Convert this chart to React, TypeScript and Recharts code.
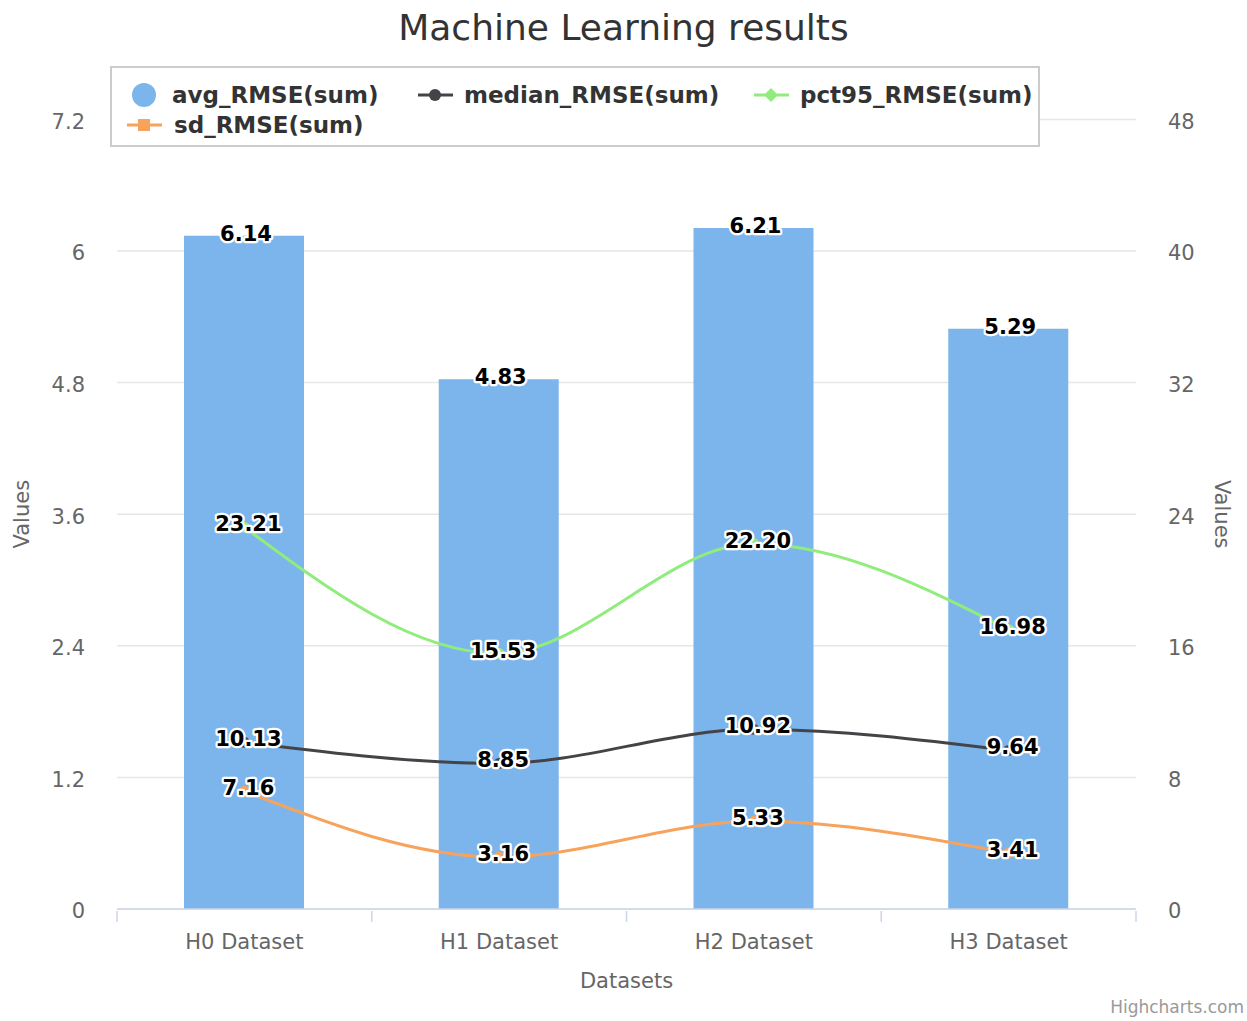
import {
  ComposedChart,
  Bar,
  Line,
  XAxis,
  YAxis,
  CartesianGrid,
  LabelList,
  Label,
} from "recharts";

const categories = ["H0 Dataset", "H1 Dataset", "H2 Dataset", "H3 Dataset"];
const avgRmse = [6.14, 4.83, 6.21, 5.29];
const medianRmse = [10.13, 8.85, 10.92, 9.64];
const pct95Rmse = [23.21, 15.53, 22.2, 16.98];
const sdRmse = [7.16, 3.16, 5.33, 3.41];
const leftTicks = [0, 1.2, 2.4, 3.6, 4.8, 6, 7.2];
const rightTicks = [0, 8, 16, 24, 32, 40, 48];

const data = categories.map((name, i) => ({
  name,
  avg: avgRmse[i],
  median: medianRmse[i],
  pct95: pct95Rmse[i],
  sd: sdRmse[i],
}));

const W = 1247;
const H = 1021;
const PLOT_LEFT = 117;
const PLOT_RIGHT = 1136;
const BAND = (PLOT_RIGHT - PLOT_LEFT) / categories.length;
const FONT = "'DejaVu Sans', sans-serif";
const AXIS_COLOR = "#ccd6eb";
const TEXT_COLOR = "#666666";

const COLORS = {
  avg: "#7cb5ec",
  median: "#434348",
  pct95: "#90ed7d",
  sd: "#f7a35c",
};

function ValueLabel(props: any) {
  const { x, y, width, value, dx = 0 } = props;
  const cx = width != null ? x + width / 2 : x;
  const text = Number(value).toFixed(2);
  return (
    <text
      x={cx + dx}
      y={y}
      dy={6}
      textAnchor="middle"
      fontFamily={FONT}
      fontWeight="bold"
      fontSize={21}
      fill="#000"
      stroke="#fff"
      strokeWidth={4.5}
      strokeLinejoin="round"
      style={{ paintOrder: "stroke" }}
    >
      {text}
    </text>
  );
}

function XTick(props: any) {
  const { x, y, payload, index } = props;
  const left = x - BAND / 2;
  return (
    <g>
      <line x1={left} x2={left} y1={y} y2={y + 11} stroke={AXIS_COLOR} strokeWidth={1.5} />
      {index === categories.length - 1 && (
        <line x1={x + BAND / 2} x2={x + BAND / 2} y1={y} y2={y + 11} stroke={AXIS_COLOR} strokeWidth={1.5} />
      )}
      <text x={x} y={y + 38} textAnchor="middle" fontFamily={FONT} fontSize={21} fill={TEXT_COLOR}>
        {payload.value}
      </text>
    </g>
  );
}

const legendItems = [
  { name: "avg_RMSE(sum)", color: COLORS.avg, kind: "circle", sx: 18, tx: 60, row: 0 },
  { name: "median_RMSE(sum)", color: COLORS.median, kind: "lineCircle", sx: 305, tx: 352, row: 0 },
  { name: "pct95_RMSE(sum)", color: COLORS.pct95, kind: "lineDiamond", sx: 641, tx: 688, row: 0 },
  { name: "sd_RMSE(sum)", color: COLORS.sd, kind: "lineSquare", sx: 14, tx: 62, row: 1 },
];

function LegendSymbol({ kind, color }: { kind: string; color: string }) {
  return (
    <svg width={38} height={30} style={{ display: "block" }}>
      {kind === "circle" ? (
        <ellipse cx={14} cy={15} rx={12} ry={12} fill={color} />
      ) : (
        <>
          <line x1={1} x2={36} y1={15} y2={15} stroke={color} strokeWidth={3} />
          {kind === "lineCircle" && <circle cx={18} cy={15} r={6} fill={color} />}
          {kind === "lineDiamond" && (
            <path d="M18 8 L25 15 L18 22 L11 15 Z" fill={color} />
          )}
          {kind === "lineSquare" && <rect x={12} y={9} width={12} height={12} fill={color} />}
        </>
      )}
    </svg>
  );
}

export default function App() {
  return (
    <div style={{ position: "absolute", left: 0, top: 0, width: W, height: H, background: "#fff" }}>
      <ComposedChart
        width={W}
        height={H}
        data={data}
        margin={{ top: 119.4, right: 0, left: 0, bottom: 0 }}
      >
        <CartesianGrid vertical={false} stroke="#e6e6e6" strokeWidth={1.5} yAxisId="left" />
        <XAxis
          dataKey="name"
          height={112}
          axisLine={{ stroke: AXIS_COLOR, strokeWidth: 1.5 }}
          tickLine={false}
          tickSize={0}
          tick={<XTick />}
          interval={0}
        >
          <Label
            content={({ viewBox }: any) => (
              <text
                x={viewBox.x + viewBox.width / 2}
                y={viewBox.y + 79}
                textAnchor="middle"
                fontFamily={FONT}
                fontSize={21}
                fill={TEXT_COLOR}
              >
                Datasets
              </text>
            )}
          />
        </XAxis>
        <YAxis
          yAxisId="left"
          width={PLOT_LEFT}
          domain={[0, 7.2]}
          ticks={leftTicks}
          axisLine={false}
          tickLine={false}
          tickSize={0}
          tickMargin={32}
          tick={{ fontFamily: FONT, fontSize: 21, fill: TEXT_COLOR, dy: 2 }}
        >
          <Label
            content={({ viewBox }: any) => (
              <text
                x={22}
                y={viewBox.y + viewBox.height / 2}
                textAnchor="middle"
                dominantBaseline="central"
                transform={`rotate(-90, 22, ${viewBox.y + viewBox.height / 2})`}
                fontFamily={FONT}
                fontSize={21}
                fill={TEXT_COLOR}
              >
                Values
              </text>
            )}
          />
        </YAxis>
        <YAxis
          yAxisId="right"
          orientation="right"
          width={W - PLOT_RIGHT}
          domain={[0, 48]}
          ticks={rightTicks}
          axisLine={false}
          tickLine={false}
          tickSize={0}
          tickMargin={32}
          tick={{ fontFamily: FONT, fontSize: 21, fill: TEXT_COLOR, textAnchor: "start", dy: 2 }}
        >
          <Label
            content={({ viewBox }: any) => (
              <text
                x={1222}
                y={viewBox.y + viewBox.height / 2}
                textAnchor="middle"
                dominantBaseline="central"
                transform={`rotate(90, 1222, ${viewBox.y + viewBox.height / 2})`}
                fontFamily={FONT}
                fontSize={21}
                fill={TEXT_COLOR}
              >
                Values
              </text>
            )}
          />
        </YAxis>
        <Bar yAxisId="left" dataKey="avg" fill={COLORS.avg} barSize={120} isAnimationActive={false}>
          <LabelList dataKey="avg" content={(p: any) => <ValueLabel {...p} dx={2} y={p.y - 1} />} />
        </Bar>
        <Line
          yAxisId="right"
          type="monotone"
          dataKey="pct95"
          stroke={COLORS.pct95}
          strokeWidth={3}
          dot={{ r: 4, fill: COLORS.pct95, stroke: COLORS.pct95 }}
          isAnimationActive={false}
        >
          <LabelList dataKey="pct95" content={(p: any) => <ValueLabel {...p} dx={4} y={p.y - 2} />} />
        </Line>
        <Line
          yAxisId="right"
          type="monotone"
          dataKey="median"
          stroke={COLORS.median}
          strokeWidth={3}
          dot={{ r: 4, fill: COLORS.median, stroke: COLORS.median }}
          isAnimationActive={false}
        >
          <LabelList dataKey="median" content={(p: any) => <ValueLabel {...p} dx={4} y={p.y - 2} />} />
        </Line>
        <Line
          yAxisId="right"
          type="monotone"
          dataKey="sd"
          stroke={COLORS.sd}
          strokeWidth={3}
          dot={{ r: 4, fill: COLORS.sd, stroke: COLORS.sd }}
          isAnimationActive={false}
        >
          <LabelList dataKey="sd" content={(p: any) => <ValueLabel {...p} dx={4} y={p.y - 2} />} />
        </Line>
      </ComposedChart>

      <div
        style={{
          position: "absolute",
          left: 0,
          top: 6,
          width: W,
          textAlign: "center",
          fontFamily: FONT,
          fontSize: 36,
          color: "#333333",
          lineHeight: "44px",
        }}
      >
        Machine Learning results
      </div>

      <div
        style={{
          position: "absolute",
          left: 110,
          top: 66,
          width: 930,
          height: 81,
          boxSizing: "border-box",
          border: "2px solid #cccccc",
          background: "#fff",
        }}
      >
        {legendItems.map((it) => (
          <div key={it.name}>
            <div style={{ position: "absolute", left: it.sx, top: 12 + it.row * 30 }}>
              <LegendSymbol kind={it.kind} color={it.color} />
            </div>
            <div
              style={{
                position: "absolute",
                left: it.tx,
                top: 12 + it.row * 30,
                height: 30,
                lineHeight: "30px",
                fontFamily: FONT,
                fontWeight: "bold",
                fontSize: 23,
                color: "#333333",
                whiteSpace: "nowrap",
              }}
            >
              {it.name}
            </div>
          </div>
        ))}
      </div>

      <div
        style={{
          position: "absolute",
          right: 3,
          top: 997,
          fontFamily: FONT,
          fontSize: 17,
          color: "#999999",
          whiteSpace: "nowrap",
        }}
      >
        Highcharts.com
      </div>
    </div>
  );
}
